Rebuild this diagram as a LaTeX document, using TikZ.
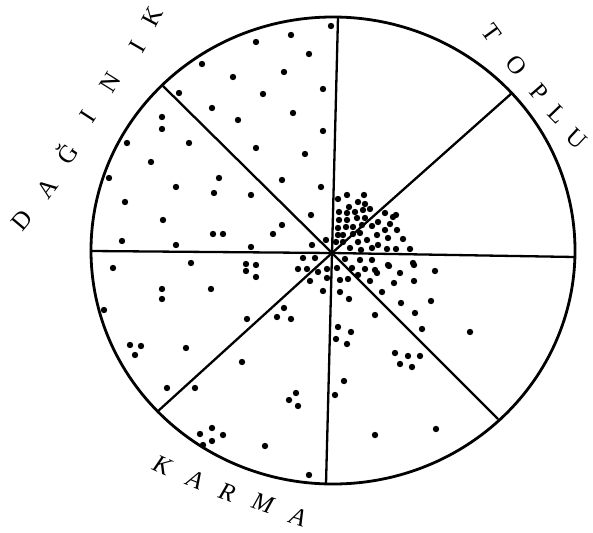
\documentclass[tikz,border=0pt]{standalone}
\usepackage{fontspec}
\setmainfont{Liberation Serif}
\begin{document}
\begin{tikzpicture}[x=1pt,y=-1pt,
  rim/.style={line width=2.8pt},
  spoke/.style={line width=2.3pt},
  lbl/.style={font=\fontsize{25}{25}\selectfont, inner sep=0pt},
  lbli/.style={font=\fontsize{25}{25}\selectfont\itshape, inner sep=0pt}]
\useasboundingbox (0,0) rectangle (593,532);
\coordinate (c) at (332,253);
\coordinate (pT) at (338,17);
\coordinate (pUR) at (512,93);
\coordinate (pR) at (575,257);
\coordinate (pLR) at (498,419);
\coordinate (pB) at (326,484);
\coordinate (pLL) at (157,412);
\coordinate (pL) at (91,251);
\coordinate (pUL) at (163,86);
\draw[rim] (333,250.5) ellipse [x radius=242, y radius=233.5];
\foreach \e in {pT,pUR,pR,pLR,pB,pLL,pL,pUL} \draw[spoke] (c) -- (\e);
% dots
\foreach \p in {
(331,26),(291,35),(256,42),(309,54),(202,64),(284,72),(233,77),(323,89),(179,93),(263,94),
(212,108),(293,113),(238,120),(323,131),(256,148),(305,154),(282,180),(321,187),(311,215),(326,240),
(162,117),(162,129),(127,143),(189,143),(151,162),(109,178),(219,178),(176,187),(214,193),(251,195),
(125,202),(163,220),(282,225),(273,234),(213,234),(223,234),(122,241),(176,245),(251,247),(312,245),
(113,268),(191,263),(246,264),(256,265),(246,271),(256,277),(298,269),(162,289),(162,299),(211,289),
(104,310),(247,319),(130,345),(141,346),(135,355),(186,348),(167,388),(303,258),(315,258),(307,269),(310,281),
(284,308),(277,317),(291,319),(242,362),(195,388),(296,393),(289,400),(298,406),(200,434),(212,428),
(223,435),(212,441),(203,445),(265,446),(309,475),(318,272),(327,269),(327,278),(323,291),
(335,395),(344,381),(338,327),(351,332),(336,339),(347,344),(375,435),(436,429),(375,315),(349,299),
(340,292),(395,353),(408,356),(420,356),(400,364),(412,367),(340,280),(348,279),(337,268),
(435,271),(414,265),(414,281),(389,266),(400,273),(394,283),(382,292),(370,281),(377,273),(401,303),
(431,301),(415,313),(422,329),(470,332),(345,259),(352,268),(360,260),(372,260),(365,269),(375,270),
(358,275),(388,265),(413,263),
(338,199),(347,195),(364,195),(358,202),(365,204),(339,212),(347,213),(349,207),(355,212),(363,210),
(370,209),(385,213),(396,215),(339,220),(347,220),(357,218),(365,218),(378,222),(393,217),(338,228),
(346,227),(353,227),(362,225),(372,226),(385,230),(390,224),(397,230),(338,235),(343,235),(353,234),
(360,233),(367,240),(377,235),(388,238),(403,239),(336,242),(343,242),(350,248),(358,242),(372,248),
(378,245),(387,249),(396,249),(410,249),(361,250)}
  \fill \p circle[radius=3.2pt];
% DAGINIK
\node[lbl,rotate=50] (d1) at (22,220) {D};
\node[lbl,rotate=53] (d2) at (47,188) {A};
\node[lbl,rotate=55] (d3) at (66,153) {Ğ};
\node[lbl,rotate=57] (d4) at (88,117) {I};
\node[lbl,rotate=58] (d5) at (110,83) {N};
\node[lbl,rotate=60] (d6) at (137,47) {I};
\node[lbl,rotate=62] (d7) at (153,17) {K};
% TOPLU
\node[lbl,rotate=-54] (t1) at (492,33) {T};
\node[lbl,rotate=-51] (t2) at (517,65) {O};
\node[lbl,rotate=-49] (t3) at (539,92) {P};
\node[lbl,rotate=-46] (t4) at (558,114) {L};
\node[lbl,rotate=-43] (t5) at (577,139) {U};
% KARMA
\node[lbli,rotate=-24] (k1) at (162,465) {K};
\node[lbli,rotate=-22] (k2) at (195,480) {A};
\node[lbli,rotate=-20] (k3) at (227,492) {R};
\node[lbli,rotate=-19] (k4) at (263,503) {M};
\node[lbli,rotate=-18] (k5) at (298,517) {A};
\end{tikzpicture}
\end{document}
